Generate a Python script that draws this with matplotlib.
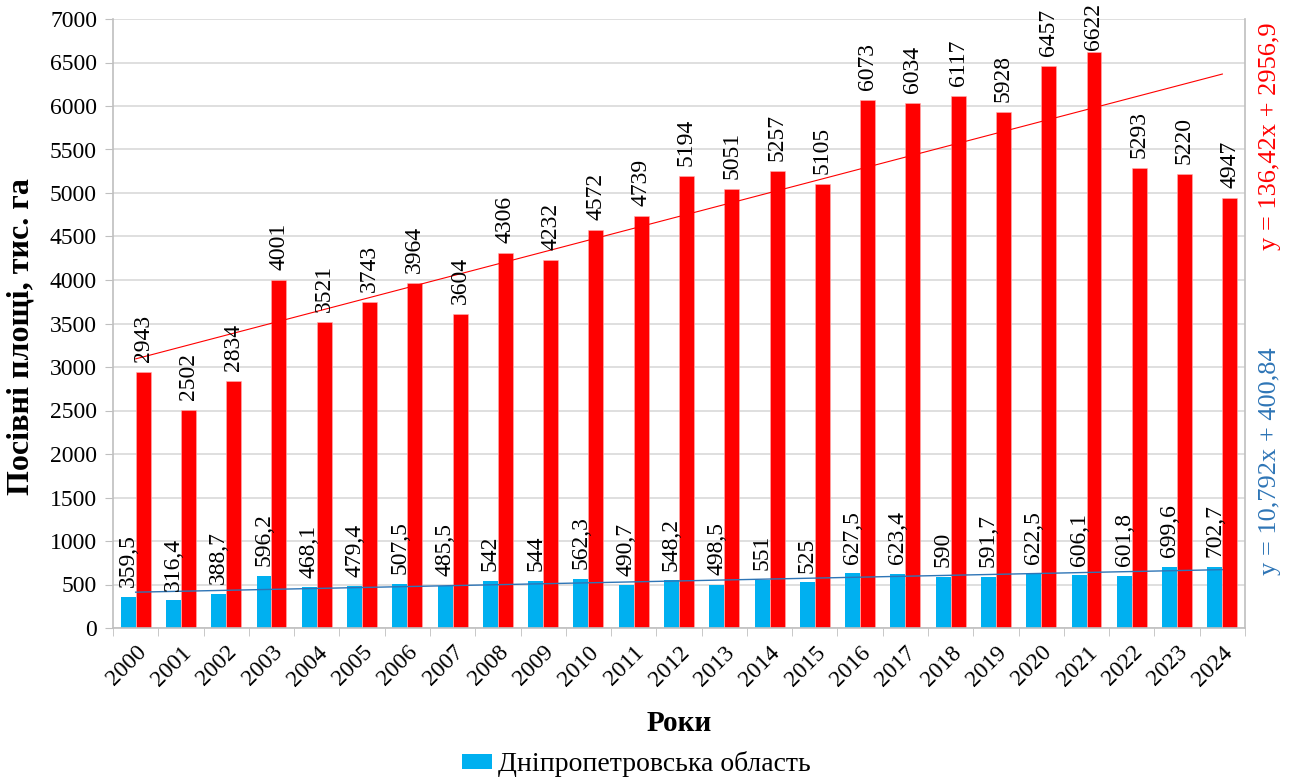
import matplotlib
matplotlib.use("Agg")
import matplotlib.pyplot as plt
import numpy as np

plt.rcParams['font.family'] = ['Liberation Serif', 'DejaVu Serif']

years = [str(y) for y in range(2000, 2025)]
dnipro = [359.5, 316.4, 388.7, 596.2, 468.1, 479.4, 507.5, 485.5, 542, 544,
          562.3, 490.7, 548.2, 498.5, 551, 525, 627.5, 623.4, 590, 591.7,
          622.5, 606.1, 601.8, 699.6, 702.7]
ukraine = [2943, 2502, 2834, 4001, 3521, 3743, 3964, 3604, 4306, 4232,
           4572, 4739, 5194, 5051, 5257, 5105, 6073, 6034, 6117, 5928,
           6457, 6622, 5293, 5220, 4947]
legend_label = "Дніпропетровська область"
ylabel = "Посівні площі, тис. га"
xlabel = "Роки"
blue_eq = "y = 10,792x + 400,84"
red_eq = "y = 136,42x + 2956,9"

BLUE = "#00B0F0"
RED = "#FF0000"
BLUE_LINE = "#2E75B6"

fig = plt.figure(figsize=(12.9, 7.8), dpi=100)
ax = fig.add_axes([113/1290, 1-628/780, (1245-113)/1290, (628-19)/780])

n = len(years)
x = np.arange(n)
w = 0.33
ax.bar(x - w/2, dnipro, width=w, color=BLUE, zorder=2, label=legend_label)
ax.bar(x + w/2, ukraine, width=w, color=RED, zorder=2, edgecolor="#FFB0B0", linewidth=0.4)

# trend lines (Excel x = 1..n)
xt = np.arange(1, n + 1)
cb = np.polyfit(xt, dnipro, 1)
cr = np.polyfit(xt, ukraine, 1)
ax.plot(x, np.polyval(cb, xt), color=BLUE_LINE, lw=1.0, zorder=3)
ax.plot(x, np.polyval(cr, xt), color=RED, lw=0.8, zorder=3)

ax.set_xlim(-0.5, n - 0.5)
ax.set_ylim(0, 7000)
ax.set_yticks(np.arange(0, 7001, 500))
ax.tick_params(axis='y', labelsize=17, length=6, color="#BFBFBF", pad=5.5)
ax.yaxis.grid(True, color="#D9D9D9", lw=1.2, zorder=0)
ax.set_axisbelow(True)

ax.set_xticks(x)
ax.set_xticklabels(years, rotation=45, ha='right', rotation_mode='anchor', fontsize=17)
ax.tick_params(axis='x', which='major', length=0, pad=10)
ax.set_xticks(np.arange(-0.5, n, 1.0), minor=True)
ax.tick_params(axis='x', which='minor', length=6, color="#BFBFBF")

for s in ['left', 'bottom', 'right']:
    ax.spines[s].set_color("#BFBFBF")
    ax.spines[s].set_linewidth(1.2)
ax.spines['top'].set_visible(False)

fig.text(21/1290, 1-337/780, ylabel, rotation=90, fontsize=23, fontweight='bold',
         ha='center', va='center')
ax.set_xlabel(xlabel, fontsize=21, fontweight='bold', labelpad=14)

fig.canvas.draw()
fig_h = fig.bbox.height
label_len = 48
for xi, v in zip(x - w/2, dnipro):
    s = f"{v:g}".replace('.', ',')
    ax.annotate(s, (xi, v), xytext=(0, 7), textcoords='offset points',
                rotation=90, ha='center', va='bottom', fontsize=17, zorder=4)
for xi, v in zip(x + w/2, ukraine):
    s = f"{v:g}".replace('.', ',')
    ytop = ax.transData.transform((xi, v))[1]
    avail = fig_h - 2 - ytop - label_len
    off_px = min(10, avail)
    ax.annotate(s, (xi, v), xytext=(0, off_px * 0.72), textcoords='offset points',
                rotation=90, ha='center', va='bottom', fontsize=17, zorder=4,
                annotation_clip=False)

fig.text(1270/1290, 1-136/780, red_eq, rotation=90, color=RED, fontsize=19,
         ha='center', va='center')
fig.text(1270/1290, 1-461/780, blue_eq, rotation=90, color=BLUE_LINE, fontsize=19,
         ha='center', va='center')

fig.legend(loc='center', bbox_to_anchor=(636/1290, 1-764/780), frameon=False,
           fontsize=20, handlelength=1.1, handleheight=0.45, handletextpad=0.2,
           borderpad=0, borderaxespad=0)

fig.savefig("out.png", dpi=100)
